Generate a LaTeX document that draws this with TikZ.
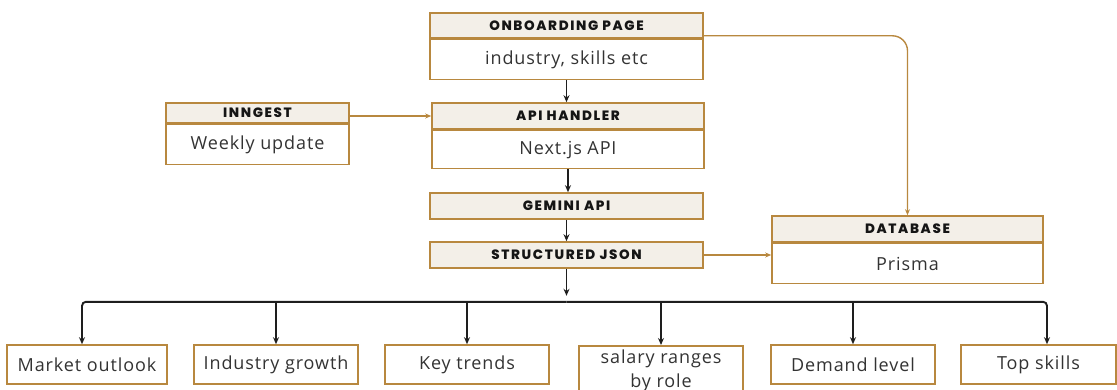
\documentclass[tikz,border=0pt]{standalone}
\usepackage{fontspec}
\usepackage{tikz}
\usetikzlibrary{positioning,arrows.meta}
\setmainfont{Open Sans}[LetterSpace=5]
\newfontfamily\headfont{Poppins}[UprightFont=* ExtraBold, BoldFont=* ExtraBold, LetterSpace=12]
\definecolor{boxbrown}{HTML}{B8883F}
\definecolor{headfill}{HTML}{F3EFE8}
\definecolor{headtext}{HTML}{151515}
\definecolor{bodytext}{HTML}{333333}
\definecolor{arrowblack}{HTML}{1E1E1E}
\tikzset{
    head-box/.style = {draw=boxbrown, fill=headfill, line width=1.6pt, rectangle, inner sep=0pt, minimum height=25pt, text=headtext, font=\headfont\fontsize{13.5}{15}\selectfont},
    body-box/.style = {draw=boxbrown, fill=white, line width=1.6pt, rectangle, inner sep=0pt, minimum height=40pt, text=bodytext, font=\fontsize{18}{24}\selectfont},
    leaf-box/.style = {body-box, minimum width=164pt, minimum height=39pt},
    brown-arrow/.style = {draw=boxbrown, line width=1.4pt, -{Stealth[length=6pt,width=5pt]}},
    black-arrow/.style = {draw=arrowblack, line width=1.9pt, -{Stealth[length=7pt,width=6pt]}},
}

\begin{document}
\begin{tikzpicture}[x=1pt, y=-1pt]
\useasboundingbox (0,0) rectangle (1117,390);

% center column
\node[head-box, minimum width=273pt] (onb-head) at (566.5,25.5) {ONBOARDING PAGE};
\node[body-box, minimum width=273pt, below=0pt of onb-head] (onb) {industry, skills etc};
\node[head-box, minimum width=272pt, minimum height=26pt] (api-head) at (568,116) {API HANDLER};
\node[body-box, minimum width=272pt, minimum height=38pt, below=0pt of api-head] (api) {Next.js API};
\node[head-box, minimum width=273pt, minimum height=26pt] (gemini) at (566.5,206) {GEMINI API};
\node[head-box, minimum width=273pt, minimum height=26pt] (json) at (566.5,255) {STRUCTURED JSON};

% side boxes
\node[head-box, minimum width=183pt, minimum height=20pt] (inn-head) at (257.5,113) {INNGEST};
\node[body-box, minimum width=183pt, below=0pt of inn-head] (inn) {Weekly update};
\node[head-box, minimum width=271pt, minimum height=26pt] (db-head) at (907.5,229) {DATABASE};
\node[body-box, minimum width=271pt, below=0pt of db-head] (db) {Prisma};

% results
\node[leaf-box, minimum width=160pt] (market) at (87,364.5) {Market outlook};
\node[leaf-box] (growth) at (276,364.5) {Industry growth};
\node[leaf-box] (trends) at (467,364.5) {Key trends};
\node[leaf-box, anchor=north, minimum height=50pt, align=center, inner ysep=3pt] (salary) at (661,345) {salary ranges\\by role};
\node[leaf-box] (demand) at (853,364.5) {Demand level};
\node[leaf-box, minimum width=155pt] (skills) at (1038.5,364.5) {Top skills};

% flow
\draw[black-arrow] (onb.south) -- (onb.south |- api-head.north);
\draw[black-arrow] (api.south) -- (api.south |- gemini.north);
\draw[black-arrow] (gemini) -- (json);
\draw[brown-arrow] (api-head.west -| inn-head.east) -- (api-head.west);
\draw[brown-arrow, rounded corners=15pt] ([yshift=3pt]onb-head.south east) -| (db-head.north);
\draw[brown-arrow] (json.east) -- (json.east -| db.west);

\coordinate (json-out) at ([yshift=-27pt]json.south);
\coordinate (bus) at ([yshift=-33pt]json.south);
\draw[black-arrow] (json.south) -- (json-out);
\draw[black-arrow, rounded corners=4pt] (bus) -| ([xshift=-5pt]market.north);
\draw[black-arrow, rounded corners=4pt] (bus) -| ([xshift=8.5pt]skills.north);
\foreach \n in {growth, trends, salary, demand}
    \draw[black-arrow] (bus -| \n.north) -- (\n.north);
\end{tikzpicture}
\end{document}
